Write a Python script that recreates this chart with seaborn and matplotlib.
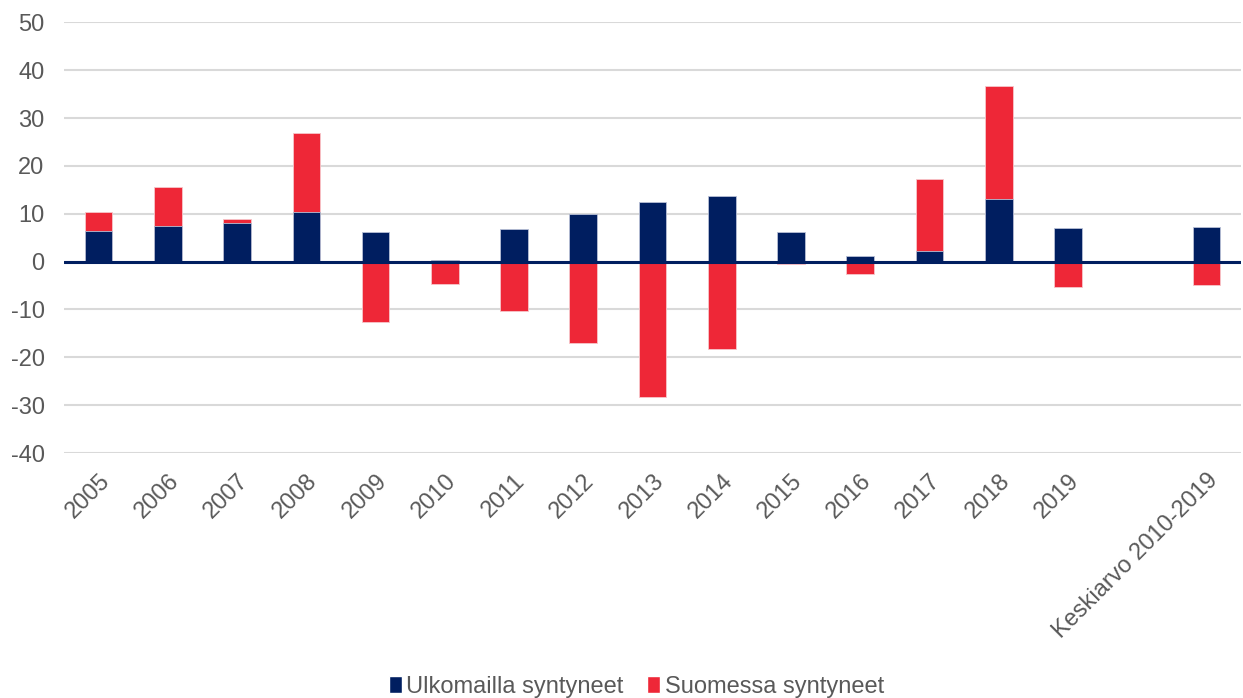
import matplotlib
matplotlib.use("Agg")
import matplotlib.pyplot as plt
from matplotlib.patches import Patch
import seaborn as sns
import pandas as pd
import numpy as np

# data
categories = ['2005', '2006', '2007', '2008', '2009', '2010', '2011', '2012',
              '2013', '2014', '2015', '2016', '2017', '2018', '2019', ' ',
              'Keskiarvo 2010-2019']
ulkomailla = [6.3, 7.4, 8.0, 10.4, 6.1, 0.4, 6.8, 10.0,
              12.5, 13.8, 6.1, 1.2, 2.3, 13.0, 7.0, np.nan, 7.3]
suomessa = [4.1, 8.2, 0.8, 16.4, -12.6, -4.7, -10.3, -17.1,
            -28.2, -18.2, -0.4, -2.6, 15.0, 23.8, -5.3, np.nan, -4.8]

blue = '#001E60'
red = '#EE2737'
grey_txt = '#595959'

df = pd.DataFrame({'Vuosi': categories, 'Ulkomailla': ulkomailla, 'Suomessa': suomessa})
# positive red stacks on top of positive blue, negative red hangs from zero
df['RedTop'] = np.where((df['Suomessa'] > 0) & (df['Ulkomailla'] > 0),
                        df['Suomessa'] + df['Ulkomailla'], df['Suomessa'])

sns.set_theme(style="white")
plt.rcParams['font.family'] = ['Liberation Sans', 'DejaVu Sans']
plt.rcParams['axes.unicode_minus'] = False

fig = plt.figure(figsize=(12.43, 6.98), dpi=100)
ax = fig.add_axes([0.0515, 0.351, 0.947, 0.617])

sns.barplot(data=df, x='Vuosi', y='RedTop', order=categories, color=red,
            width=0.4, saturation=1, edgecolor='#f7c6ca', linewidth=0.6, ax=ax, zorder=2)
sns.barplot(data=df, x='Vuosi', y='Ulkomailla', order=categories, color=blue,
            width=0.4, saturation=1, edgecolor='#b8c0d6', linewidth=0.6, ax=ax, zorder=3)

ax.set_ylim(-40, 50)
ax.set_yticks(range(-40, 51, 10))
ax.set_xlim(-0.5, len(categories) - 0.5)
ax.yaxis.grid(True, color='#d9d9d9', linewidth=1.5, zorder=0)
ax.set_axisbelow(True)
ax.axhline(0, color=blue, linewidth=2.2, zorder=4)
for s in ax.spines.values():
    s.set_visible(False)

ax.set_xlabel('')
ax.set_ylabel('')
ax.tick_params(axis='y', length=0, pad=14, labelsize=17, labelcolor=grey_txt)
ax.tick_params(axis='x', length=0, pad=12, labelsize=17, labelcolor=grey_txt)
ax.set_xticks(range(len(categories)))
ax.set_xticklabels(categories, rotation=45, ha='right', rotation_mode='anchor')

handles = [Patch(facecolor=blue, label='Ulkomailla syntyneet'),
           Patch(facecolor=red, label='Suomessa syntyneet')]
leg = fig.legend(handles=handles, loc='lower center', bbox_to_anchor=(0.512, -0.03),
                 ncol=2, frameon=False, fontsize=17, handlelength=0.55, handleheight=0.75,
                 handletextpad=0.2, columnspacing=1.0)
for t in leg.get_texts():
    t.set_color(grey_txt)

fig.savefig('out.png', dpi=100)
